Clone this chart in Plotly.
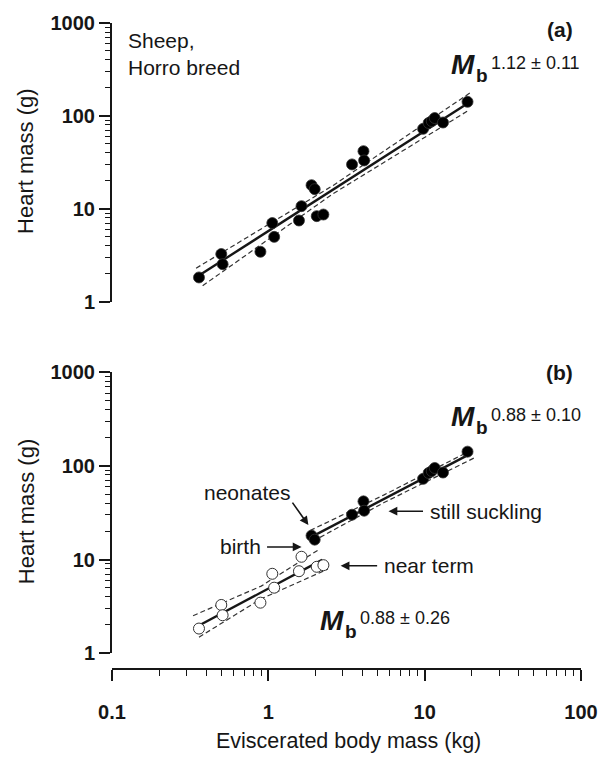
import plotly.graph_objects as go

# ---------------- data ----------------
# prenatal animals (open circles in panel b)
body_mass_pre = [0.36, 0.50, 0.51, 0.89, 1.06, 1.09, 1.57, 1.63, 2.04, 2.25]
heart_pre = [1.83, 3.27, 2.54, 3.46, 7.04, 5.0, 7.5, 10.7, 8.36, 8.7]
# postnatal animals (filled circles in panel b)
body_mass_post = [1.89, 1.98, 3.43, 4.06, 4.10, 9.77, 10.6, 11.1, 11.6, 13.1, 18.8]
heart_post = [18.0, 16.3, 30.1, 41.8, 33.2, 72.7, 84.0, 88.0, 95.0, 85.0, 142.0]

# regression lines and 95% bands (end points)
fit_all_x = [0.36, 19.0]
fit_all_y = [1.92, 138.0]
band_all_up_x = [0.345, 2.6, 19.7]
band_all_up_y = [2.30, 17.9, 179.0]
band_all_lo_x = [0.38, 2.6, 18.8]
band_all_lo_y = [1.49, 14.6, 113.0]

fit_post_x = [1.93, 19.0]
fit_post_y = [17.8, 131.0]
band_post_up_x = [1.85, 5.5, 20.3]
band_post_up_y = [20.4, 49.0, 150.0]
band_post_lo_x = [1.93, 5.5, 20.8]
band_post_lo_y = [15.7, 40.6, 122.0]

fit_pre_x = [0.36, 2.21]
fit_pre_y = [1.97, 9.9]
band_pre_up_x = [0.33, 0.9, 2.14]
band_pre_up_y = [2.51, 5.2, 13.0]
band_pre_lo_x = [0.36, 0.9, 2.4]
band_pre_lo_y = [1.48, 3.8, 7.9]

x_tick_vals = [0.1, 1, 10, 100]
x_tick_text = ["0.1", "1", "10", "100"]
y_tick_vals = [1, 10, 100, 1000]
y_tick_text = ["1", "10", "100", "1000"]
minor_x = [m * d for d in (0.1, 1, 10) for m in range(2, 10)]
minor_y = [m * d for d in (1, 10, 100) for m in range(2, 10)]

# ---------------- layout geometry ----------------
W, H = 610, 761
L, R, T, B = 112, 592, 18, 669
PW, PH = R - L, B - T


def px(x):
    return (x - L) / PW


def py(y):
    return (B - y) / PH


FONT = "Liberation Sans, Arial, sans-serif"
INK = "#161616"

fig = go.Figure()

def add_line(x, y, yax, dash=None, width=2.4):
    fig.add_trace(go.Scatter(
        x=x, y=y, mode="lines", xaxis="x", yaxis=yax,
        line=dict(color=INK if dash is None else "#333333", width=width, dash=dash),
        hoverinfo="skip", showlegend=False))

DASH = "5px,3px"

# panel (a)
add_line(band_all_up_x, band_all_up_y, "y", dash=DASH, width=1.2)
add_line(band_all_lo_x, band_all_lo_y, "y", dash=DASH, width=1.2)
add_line(fit_all_x, fit_all_y, "y")
fig.add_trace(go.Scatter(
    x=body_mass_pre + body_mass_post, y=heart_pre + heart_post,
    mode="markers", xaxis="x", yaxis="y",
    marker=dict(size=11, color="black", line=dict(color="#333", width=0.8)),
    showlegend=False))

# panel (b)
add_line(band_post_up_x, band_post_up_y, "y2", dash=DASH, width=1.2)
add_line(band_post_lo_x, band_post_lo_y, "y2", dash=DASH, width=1.2)
add_line(band_pre_up_x, band_pre_up_y, "y2", dash=DASH, width=1.2)
add_line(band_pre_lo_x, band_pre_lo_y, "y2", dash=DASH, width=1.2)
add_line(fit_post_x, fit_post_y, "y2")
add_line(fit_pre_x, fit_pre_y, "y2")
fig.add_trace(go.Scatter(
    x=body_mass_pre, y=heart_pre, mode="markers", xaxis="x", yaxis="y2",
    marker=dict(size=11, color="white", line=dict(color="#333", width=1)),
    showlegend=False))
fig.add_trace(go.Scatter(
    x=body_mass_post, y=heart_post, mode="markers", xaxis="x", yaxis="y2",
    marker=dict(size=11, color="black", line=dict(color="#333", width=0.8)),
    showlegend=False))

tickfont = dict(family=FONT, size=20, color=INK, weight="bold")

yaxis_common = dict(
    type="log", range=[0, 3], showgrid=False, zeroline=False,
    showline=True, linecolor=INK, linewidth=2,
    ticks="outside", ticklen=11, tickwidth=2, tickcolor=INK,
    tickmode="array", tickvals=y_tick_vals, ticktext=y_tick_text,
    tickfont=tickfont, anchor="x",
    minor=dict(ticks="outside", ticklen=5, tickwidth=1.2, tickcolor=INK,
               tickmode="array", tickvals=minor_y, showgrid=False),
)

fig.update_layout(
    width=W, height=H,
    margin=dict(l=L, r=W - R, t=T, b=H - B, pad=0),
    paper_bgcolor="white", plot_bgcolor="white",
    showlegend=False,
    xaxis=dict(
        type="log", range=[-1, 2], domain=[0, 1], anchor="free", position=0,
        showgrid=False, zeroline=False,
        showline=True, linecolor=INK, linewidth=2,
        ticks="outside", ticklen=11, tickwidth=2, tickcolor=INK,
        tickmode="array", tickvals=x_tick_vals, ticktext=x_tick_text,
        tickfont=tickfont, ticklabelstandoff=14,
        minor=dict(ticks="outside", ticklen=6, tickwidth=1.2, tickcolor=INK,
                   tickmode="array", tickvals=minor_x, showgrid=False),
    ),
    yaxis=dict(domain=[py(299), py(18)], **yaxis_common),
    yaxis2=dict(domain=[py(653), py(370)], **yaxis_common),
)

ann = []

def text(x, y, s, size=21, xanchor="left", yanchor="middle", bold=False, italic=False,
         angle=0):
    ann.append(dict(
        x=px(x), y=py(y), xref="paper", yref="paper", text=s, showarrow=False,
        xanchor=xanchor, yanchor=yanchor, textangle=angle, align="left",
        font=dict(family=FONT, size=size, color=INK,
                  weight="bold" if bold else "normal",
                  style="italic" if italic else "normal")))

def arrow(tail, head):
    ann.append(dict(
        x=px(head[0]), y=py(head[1]), xref="paper", yref="paper", text="",
        showarrow=True, axref="pixel", ayref="pixel",
        ax=tail[0] - head[0], ay=tail[1] - head[1],
        arrowhead=2, arrowsize=1.1, arrowwidth=1.6, arrowcolor=INK, standoff=0))

# axis titles
text(24, 158, "Heart mass (g)", size=22, xanchor="center", angle=-90)
text(24, 511, "Heart mass (g)", size=22, xanchor="center", angle=-90)
text(354, 742, "Eviscerated body mass (kg)", size=21.5, xanchor="center")

# panel labels
text(586, 25, "(a)", xanchor="right", bold=True)
text(586, 370, "(b)", xanchor="right", bold=True)
text(126, 22, "Sheep,<br>Horro breed", yanchor="top")

# exponents
def mb(x, y, expo):
    text(x, y, "M", size=28, bold=True, italic=True)
    text(x + 25, y + 11, "b", size=19, bold=True)
    text(x + 41, y - 2, expo, size=18)

mb(457, 60, "1.12 ± 0.11")
mb(457, 415, "0.88 ± 0.10")
mb(323, 620, "0.88 ± 0.26")

# pointer labels
text(250, 491, "neonates", xanchor="center")
arrow((296, 500), (313, 524))
text(244, 546, "birth", xanchor="center")
arrow((270, 546), (306, 546))
text(388, 565, "near term")
arrow((384, 565), (346, 565))
text(435, 510, "still suckling")
arrow((431, 510), (395, 510))

fig.update_layout(annotations=ann)

fig.write_html("out.html")
